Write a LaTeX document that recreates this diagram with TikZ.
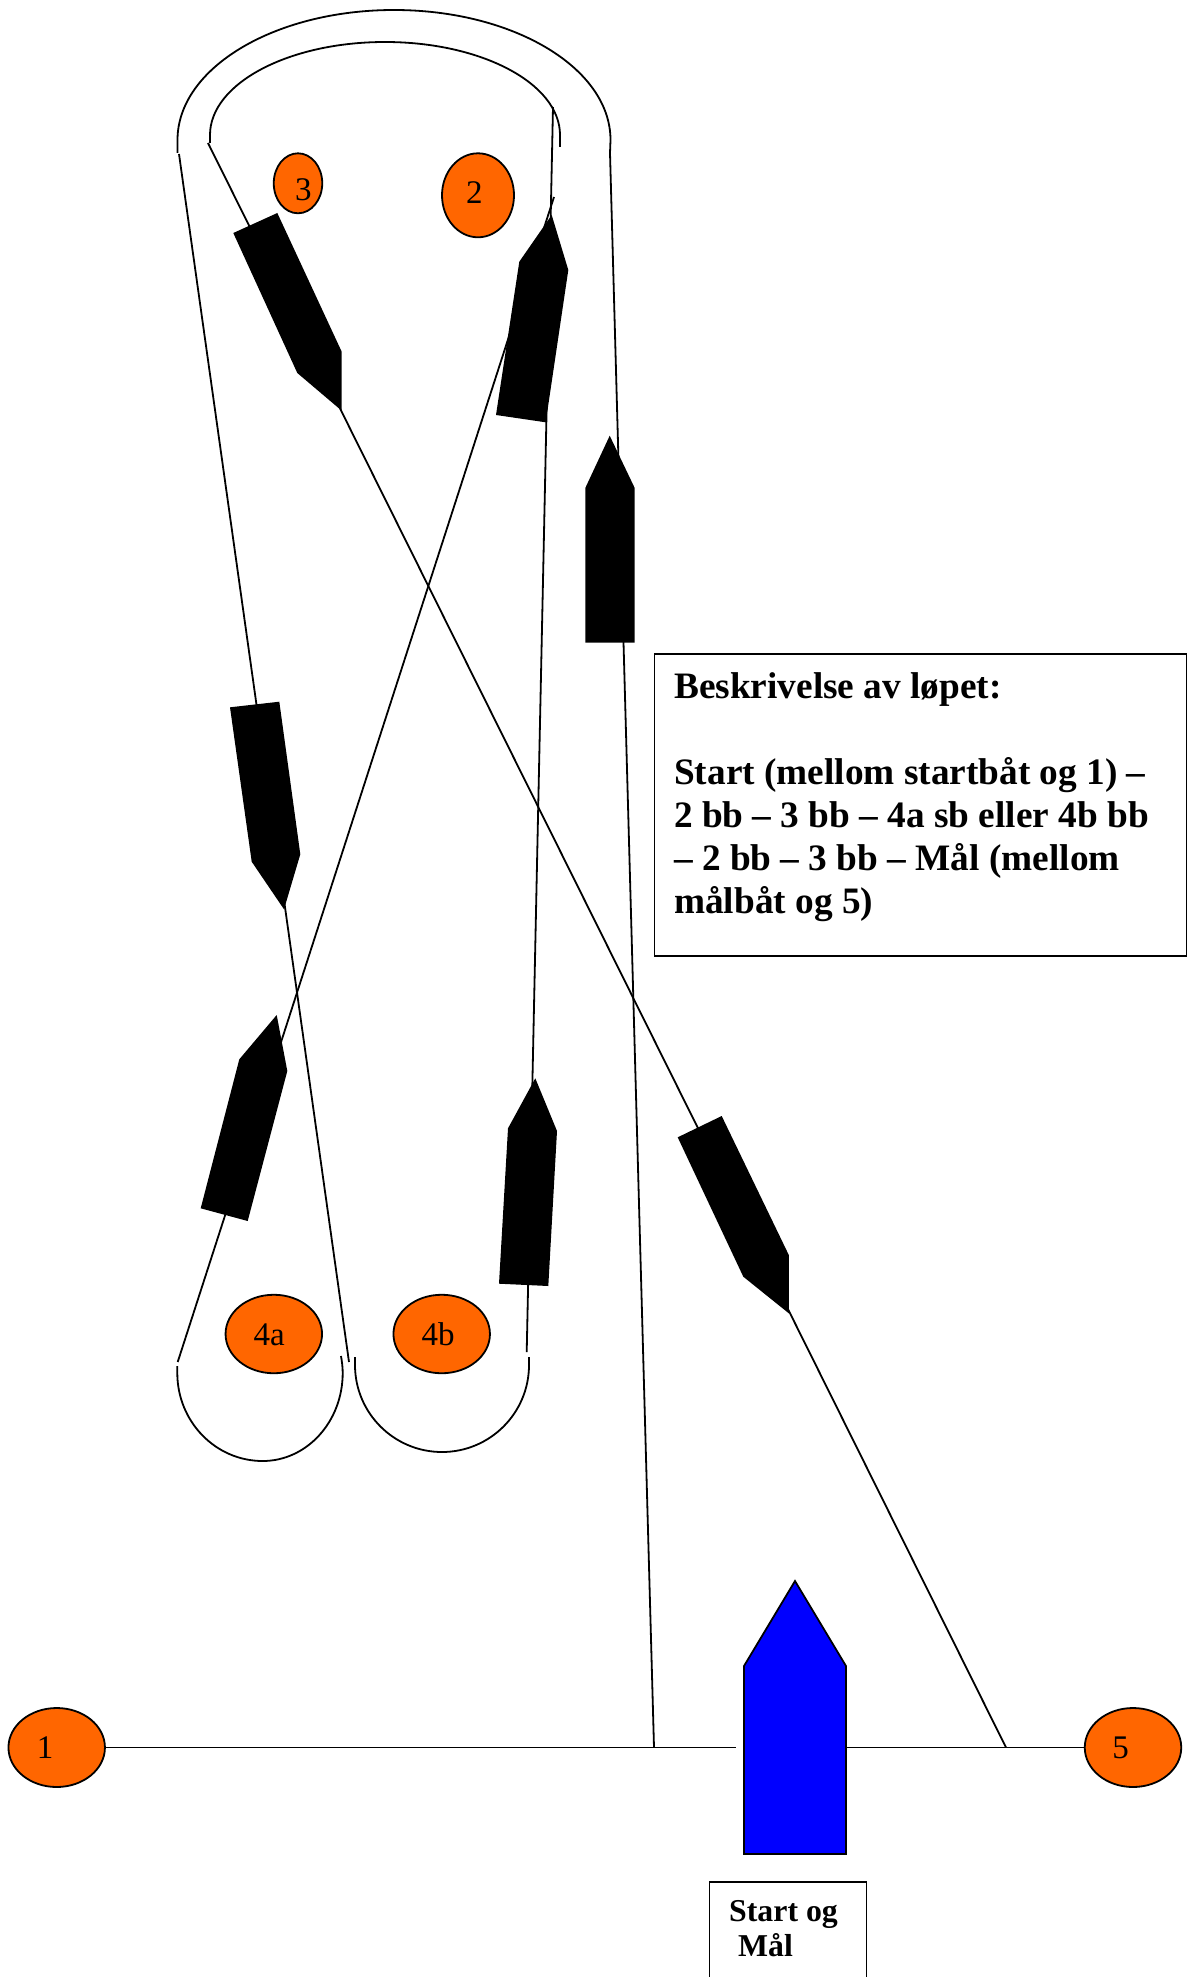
\documentclass[tikz,border=0pt]{standalone}
\usepackage{fontspec}
\setmainfont{Liberation Serif}
\usetikzlibrary{shapes.geometric}
\definecolor{markorange}{HTML}{FF6600}
\definecolor{startblue}{HTML}{0000FF}
\tikzset{
  course/.style={line width=1.8pt,draw=black},
  boat/.style={fill=black,draw=none},
  buoy/.style={ellipse,draw=black,line width=1.8pt,fill=markorange,inner sep=0pt,minimum width=#1},
  buoytext/.style={font=\fontsize{33}{36}\selectfont,inner sep=0pt,text=black},
  frame/.style={rectangle,draw=black,line width=1.8pt,inner sep=0pt,fill=white,anchor=north west},
  boldtext/.style={font=\fontsize{37.3}{43}\selectfont\bfseries,inner sep=0pt,align=left,anchor=north west},
}
\begin{document}
\begin{tikzpicture}[x=1pt,y=-1pt]
\useasboundingbox[fill=white] (0,0) rectangle (1195,1977);
% course coordinates
\coordinate (oL) at (179,154);
\coordinate (oLb) at (349,1362);
\coordinate (iL) at (208,143);
\coordinate (iLb) at (1006,1747.5);
\coordinate (oR) at (610,153);
\coordinate (oRb) at (654,1747.5);
\coordinate (x2) at (554,197);
\coordinate (x2b) at (177.7,1362);
\coordinate (y2) at (553,107);
\coordinate (y2b) at (526.7,1352);
\coordinate (lineEnd) at (735.5,1747.5);
\coordinate (lineStart) at (846,1747.5);
% buoys
\node[buoy=96.5pt,minimum height=79pt] (b1) at (56.7,1747.5) {};
\node[buoy=96.5pt,minimum height=79pt] (b5) at (1133,1747.5) {};
\node[buoy=48.5pt,minimum height=60pt] (b3) at (298,183.3) {};
\node[buoy=72pt,minimum height=84pt] (b2) at (478,195.3) {};
\node[buoy=96.5pt,minimum height=78.5pt] (b4a) at (273.8,1334) {};
\node[buoy=96.5pt,minimum height=78.5pt] (b4b) at (441.7,1334) {};
\node[buoytext] (t1) at (45,1747.5) {1};
\node[buoytext] (t5) at (1120.6,1747.5) {5};
\node[buoytext] (t3) at (303.3,190) {3};
\node[buoytext] (t2) at (474.3,192.7) {2};
\node[buoytext] (t4a) at (269.3,1334.3) {4a};
\node[buoytext] (t4b) at (438,1334) {4b};
% course legs
\draw[course] (oL) -- (oLb);
\draw[course] (iL) -- (iLb);
\draw[course] (oR) -- (oRb);
\draw[course] (x2) -- (x2b);
\draw[course] (y2) -- (y2b);
\draw[course] (b1.east) -- (lineEnd);
\draw[course] (lineStart) -- (b5.west);
% turning arcs
\draw[course] (177.5,153) -- (177.5,140) arc[start angle=180,end angle=360,x radius=216.5,y radius=130] -- (610,153);
\draw[course] (210,143) -- (210,135) arc[start angle=180,end angle=360,x radius=175,y radius=93] .. controls (560,140) and (560,144) .. (560,147);
\draw[course] (177.3,1366) -- (177.3,1373) arc[start angle=180,end angle=90,x radius=85.4,y radius=88] arc[start angle=90,end angle=0,x radius=80,y radius=88] .. controls (342.7,1367) and (342,1362) .. (341,1356);
\draw[course] (355,1357) -- (355,1365) arc[start angle=180,end angle=0,x radius=87,y radius=87] -- (529,1357);
% boats
\draw[boat] (277.3,213) -- (233.3,233) -- (297.3,373) -- (341.7,410.7) -- (341.7,351.7) -- cycle;
\draw[boat] (551.7,215) -- (519.3,261.7) -- (496,415) -- (545.7,422.3) -- (568.3,270) -- cycle;
\draw[boat] (609.7,435.7) -- (585.3,488) -- (585.3,642.7) -- (634.7,642.7) -- (634.7,488) -- cycle;
\draw[boat] (230,707.3) -- (251.7,861.7) -- (284,909.3) -- (300.3,854.3) -- (279.3,701.7) -- cycle;
\draw[boat] (276.7,1015) -- (239.3,1059.3) -- (200.7,1208.3) -- (247.7,1221) -- (287.3,1071) -- cycle;
\draw[boat] (535.3,1078.3) -- (508,1128.3) -- (499,1283.7) -- (548.3,1286) -- (557,1131) -- cycle;
\draw[boat] (721.7,1116) -- (677.7,1137.3) -- (743.3,1276.7) -- (788.8,1313.3) -- (788.8,1255) -- cycle;
\draw[line width=1.8pt,fill=startblue] (795,1581) -- (744,1666) -- (744,1854) -- (846,1854) -- (846,1666) -- cycle;
% boxes
\node[frame,minimum width=532pt,minimum height=302pt] (descbox) at (653.5,653) {};
\node[boldtext] (desc) at (674,672) {Beskrivelse av løpet:\\[43pt]Start (mellom startbåt og 1) –\\2 bb – 3 bb – 4a sb eller 4b bb\\– 2 bb – 3 bb – Mål (mellom\\målbåt og 5)};
\node[frame,minimum width=157pt,minimum height=130pt] (startbox) at (708.5,1881) {};
\node[boldtext,font=\fontsize{31.8}{35.5}\selectfont\bfseries] (starttext) at (729,1900) {Start og\\\hspace*{9pt}Mål};
\end{tikzpicture}
\end{document}
